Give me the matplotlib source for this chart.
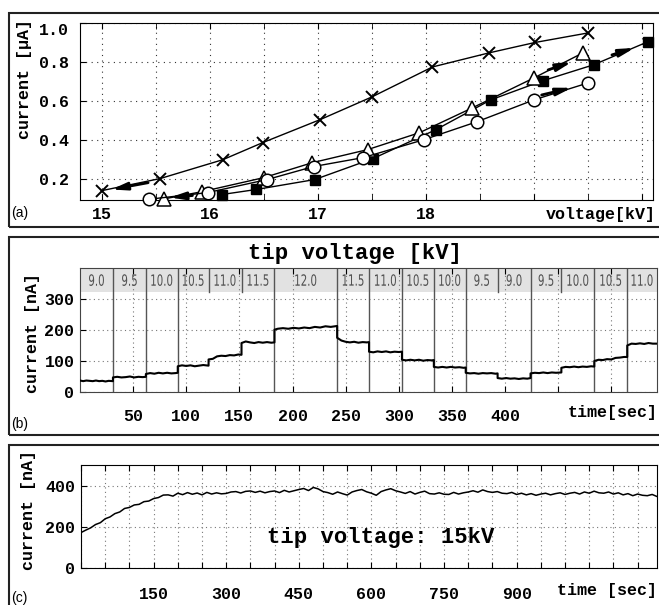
import numpy as np
import matplotlib
matplotlib.use('Agg')
import matplotlib.pyplot as plt
from matplotlib.patches import Rectangle, PathPatch
from matplotlib.textpath import TextPath
from matplotlib.font_manager import FontProperties
from matplotlib.transforms import Affine2D, IdentityTransform

# ---- (a) current vs voltage, four runs ----
v_cross = [15.0, 15.54, 16.12, 16.49, 17.02, 17.5, 18.06, 18.58, 19.01, 19.5]
i_cross = [0.138, 0.20, 0.297, 0.385, 0.503, 0.62, 0.774, 0.846, 0.90, 0.949]
v_circ = [15.44, 15.98, 16.53, 16.96, 17.42, 17.98, 18.47, 19.0, 19.5]
i_circ = [0.094, 0.128, 0.195, 0.262, 0.308, 0.40, 0.492, 0.605, 0.692]
v_tri = [15.58, 15.93, 16.5, 16.95, 17.46, 17.94, 18.43, 19.0, 19.45]
i_tri = [0.096, 0.133, 0.205, 0.282, 0.349, 0.436, 0.564, 0.718, 0.846]
v_sq = [16.11, 16.43, 16.97, 17.51, 18.09, 18.6, 19.08, 19.55, 20.05]
i_sq = [0.118, 0.144, 0.195, 0.303, 0.451, 0.605, 0.703, 0.785, 0.903]
# direction arrows (start, end) in data units
arrows_a = [((15.43, 0.179), (15.09, 0.144)),
            ((15.84, 0.113), (15.63, 0.103)),
            ((19.07, 0.630), (19.35, 0.667)),
            ((19.13, 0.759), (19.35, 0.800)),
            ((19.72, 0.836), (19.93, 0.872))]

# ---- (b) current while stepping the tip voltage ----
seg_bounds = [0, 31, 62, 92, 121, 152, 183, 242, 272, 303, 333, 363, 393, 424, 453, 484, 515, 543]
seg_kv = ['9.0', '9.5', '10.0', '10.5', '11.0', '11.5', '12.0', '11.5', '11.0',
          '10.5', '10.0', '9.5', '9.0', '9.5', '10.0', '10.5', '11.0']
band_only = [121, 152, 393, 453]
t_b = [0, 3, 6, 9, 12, 15, 18, 21, 24, 27, 31,
       31, 35, 39, 43, 47, 51, 55, 59, 62,
       62, 66, 70, 74, 78, 82, 86, 90, 92,
       92, 96, 100, 104, 108, 112, 116, 121,
       121, 125, 129, 133, 137, 141, 145, 149, 152,
       152, 156, 160, 164, 168, 172, 176, 180, 183,
       183, 186, 191, 196, 201, 206, 211, 216, 221, 226, 231, 236, 242,
       242, 246, 250, 254, 258, 262, 266, 270, 272,
       272, 276, 280, 284, 288, 292, 296, 300, 303,
       303, 307, 311, 315, 319, 323, 327, 331, 333,
       333, 337, 341, 345, 349, 353, 357, 361, 363,
       363, 367, 371, 375, 379, 383, 387, 391, 393,
       393, 397, 401, 405, 409, 413, 417, 421, 424,
       424, 428, 432, 436, 440, 444, 448, 453,
       453, 457, 461, 465, 469, 473, 477, 481, 484,
       484, 488, 492, 496, 500, 504, 508, 512, 515,
       515, 519, 523, 527, 531, 535, 539, 543]
i_b = [37, 35, 37, 36, 35, 37, 35, 36, 34, 36, 35,
       47, 49, 47, 48, 50, 47, 49, 48, 49,
       58, 61, 59, 62, 60, 62, 60, 61, 62,
       83, 86, 84, 86, 83, 85, 87, 85,
       105, 107, 115, 117, 116, 119, 118, 121, 120,
       158, 163, 160, 158, 161, 159, 161, 159, 160,
       201, 204, 206, 204, 207, 205, 208, 206, 210, 208, 212, 210, 213,
       175, 166, 162, 160, 162, 159, 161, 160, 161,
       130, 128, 131, 129, 131, 128, 130, 129, 130,
       104, 102, 104, 102, 104, 101, 103, 102, 103,
       81, 79, 81, 79, 81, 79, 80, 78, 79,
       62, 60, 61, 59, 61, 60, 61, 59, 60,
       45, 43, 45, 43, 44, 42, 44, 43, 45,
       60, 62, 61, 63, 61, 63, 62, 63,
       78, 81, 80, 82, 80, 82, 81, 83, 82,
       100, 104, 103, 106, 105, 110, 111, 113, 113,
       150, 156, 155, 157, 155, 158, 156, 156]

# ---- (c) long run at 15 kV, one reading every 10 s ----
t_c = list(range(0, 1200, 10))
i_c = [172, 184, 195, 211, 220, 239, 248, 264, 272, 289, 294, 306, 309, 322, 325, 337, 342, 354, 355, 349,
       363, 356, 366, 358, 364, 355, 367, 359, 365, 360, 362, 369, 371, 364, 372, 374, 367, 373, 365, 371,
       374, 366, 377, 369, 375, 381, 386, 376, 391, 384, 371, 366, 358, 369, 361, 354, 369, 376, 381, 370,
       363, 353, 371, 379, 385, 375, 369, 362, 371, 359, 367, 373, 361, 359, 365, 358, 357, 367, 359, 365,
       369, 375, 368, 379, 371, 367, 371, 363, 361, 367, 357, 363, 355, 361, 353, 359, 363, 355, 361, 365,
       357, 363, 367, 359, 369, 363, 373, 365, 363, 369, 359, 365, 355, 361, 351, 359, 353, 351, 357, 347]

W, H = 659, 605
plt.rcParams['font.family'] = ['Liberation Mono', 'DejaVu Sans']
plt.rcParams['font.weight'] = 'bold'
fig = plt.figure(figsize=(W / 100, H / 100), dpi=100)


def box(l, t, r, b):
    return [l / W, 1 - b / H, (r - l) / W, (b - t) / H]


def ftext(x, y, s, **kw):
    fig.text(x / W, 1 - y / H, s, **kw)


def narrow_text(ax, x, y, s, size=15.5, squeeze=0.66, color='#505050'):
    # condensed label drawn as a squeezed text path, centred on data point (x, y)
    tp = TextPath((0, 0), s, size=size, prop=FontProperties(family='DejaVu Sans', weight='normal'))
    ext = tp.get_extents()
    px, py = ax.transData.transform((x, y))
    tr = (Affine2D().translate(-(ext.x0 + ext.x1) / 2, -(ext.y0 + ext.y1) / 2)
          .scale(squeeze, 1).translate(px, py))
    ax.add_artist(PathPatch(tp, transform=tr + IdentityTransform(), fc=color, ec='none', zorder=2))


for top, bot in [(13, 227), (237, 435), (445, 620)]:
    fig.add_artist(Rectangle((9 / W, 1 - bot / H), 700 / W, (bot - top) / H,
                             transform=fig.transFigure, fill=False, lw=1.5, ec='#222222'))

grid_kw = dict(color='#333333', lw=0.8, ls=(0, (1, 4)))

# panel a
ax = fig.add_axes(box(80, 23, 653, 200))
ax.plot(v_cross, i_cross, color='k', lw=1, marker='x', ms=9, mew=1.4, clip_on=False, zorder=3)
ax.plot(v_sq, i_sq, color='k', lw=1, marker='s', ms=7, mfc='k', clip_on=False, zorder=3)
ax.plot(v_tri, i_tri, color='k', lw=1, marker='^', ms=10, mfc='white', mew=1.1, clip_on=False, zorder=3)
ax.plot(v_circ, i_circ, color='k', lw=1, marker='o', ms=9, mfc='white', mew=1.1, clip_on=False, zorder=3)
for (x0, y0), (x1, y1) in arrows_a:
    ax.annotate('', xy=(x1, y1), xytext=(x0, y0), zorder=4,
                arrowprops=dict(arrowstyle='-|>,head_length=0.9,head_width=0.22',
                                color='k', lw=2, shrinkA=0, shrinkB=0))
ax.set_xlim(14.8, 20.1)
ax.set_ylim(0.09, 1.0)
ax.set_xticks([15, 16, 17, 18, 19, 20])
ax.set_xticklabels(['15', '16', '17', '18', '', ''])
ax.set_xticks([15.5, 16.5, 17.5, 18.5, 19.5], minor=True)
ax.set_yticks([0.2, 0.4, 0.6, 0.8, 1.0])
ax.set_yticklabels(['0.2', '0.4', '0.6', '0.8', '1.0'])
ax.get_yticklabels()[-1].set_va('top')
ax.tick_params(which='both', direction='in', top=True, length=4, labelsize=12)
ax.tick_params(axis='x', pad=5)
ax.tick_params(axis='y', pad=8)
ax.grid(True, which='both', **grid_kw)
ax.set_axisbelow(True)
ftext(25, 79, 'current [\u03bcA]', rotation=90, ha='center', va='center', fontsize=12)
ftext(656, 214, 'voltage[kV]', ha='right', va='center', fontsize=12)
ftext(11, 213, '(a)', ha='left', va='center', fontsize=10, family='Liberation Sans', weight='normal')

# panel b
ax = fig.add_axes(box(80, 268, 657, 392))
ax.set_xlim(0, 543)
ax.set_ylim(0, 400)
ax.axhspan(322, 400, color='#e2e2e2', lw=0, zorder=0.1)
for tb in seg_bounds[1:-1]:
    if tb in band_only:
        ax.plot([tb, tb], [322, 400], color='#555555', lw=1, zorder=1)
    else:
        ax.axvline(tb, color='#555555', lw=1, zorder=1)
for k, lab in enumerate(seg_kv):
    narrow_text(ax, (seg_bounds[k] + seg_bounds[k + 1]) / 2, 361, lab)
ax.plot(t_b, i_b, color='k', lw=1.5, zorder=3)
ax.set_xticks(range(50, 501, 50))
ax.set_xticklabels(['50', '100', '150', '200', '250', '300', '350', '400', '', ''])
ax.set_yticks([0, 100, 200, 300])
ax.tick_params(which='both', direction='in', top=True, length=4, labelsize=12)
ax.tick_params(axis='x', pad=12)
ax.tick_params(axis='y', pad=4)
ax.grid(True, color='#777777', lw=0.8, ls=(0, (1, 3)))
ax.set_axisbelow(True)
for s in ax.spines.values():
    s.set_color('#444444')
ftext(33, 333, 'current [nA]', rotation=90, ha='center', va='center', fontsize=12)
ftext(355, 253, 'tip voltage [kV]', ha='center', va='center', fontsize=16)
ftext(658, 412, 'time[sec]', ha='right', va='center', fontsize=12)
ftext(11, 424, '(b)', ha='left', va='center', fontsize=10, family='Liberation Sans', weight='normal')

# panel c
ax = fig.add_axes(box(81, 465, 657, 568))
ax.plot(t_c, i_c, color='k', lw=1.1, zorder=3)
ax.set_xlim(0, 1190)
ax.set_ylim(0, 500)
xt = list(range(0, 1151, 50))
ax.set_xticks(xt)
ax.set_xticklabels([str(t) if t in (150, 300, 450, 600, 750, 900) else '' for t in xt])
ax.set_yticks([0, 200, 400])
ax.tick_params(which='both', direction='in', top=True, length=4, labelsize=12)
ax.tick_params(axis='x', pad=14)
ax.tick_params(axis='y', pad=4)
ax.grid(True, color='#777777', lw=0.8, ls=(0, (1, 3)))
ax.set_axisbelow(True)
ftext(28, 510, 'current [nA]', rotation=90, ha='center', va='center', fontsize=12)
ftext(381, 538, 'tip voltage: 15kV', ha='center', va='center', fontsize=16)
ftext(657, 590, 'time [sec]', ha='right', va='center', fontsize=12)
ftext(11, 598, '(c)', ha='left', va='center', fontsize=10, family='Liberation Sans', weight='normal')

fig.savefig('out.png', dpi=100)
